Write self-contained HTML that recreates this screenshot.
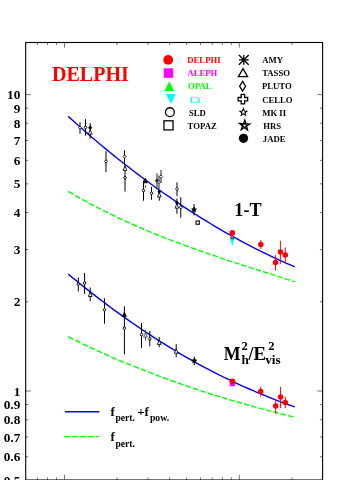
<!DOCTYPE html>
<html><head><meta charset="utf-8"><title>DELPHI</title>
<style>
html,body{margin:0;padding:0;background:#fff;}
svg{display:block;will-change:transform;opacity:0.999;font-family:"Liberation Serif",serif;font-weight:bold;}
.yl{font-size:12.8px;fill:#000;}
.lg{font-size:8.5px;}
.ti{font-size:20px;}
.big{font-size:18px;fill:#000;}
.sub{font-size:12px;}
.fl{font-size:13px;fill:#000;}
.fs{font-size:9.5px;}
</style></head><body>
<svg width="346" height="480" viewBox="0 0 346 480">
<rect width="346" height="480" fill="#fff"/>
<rect x="25.7" y="42.5" width="296.9" height="437.5" fill="none" stroke="#000" stroke-width="1.1"/>
<path d="M37.40 42.5v2.6 M37.40 480.0v-2.6 M47.54 42.5v2.6 M47.54 480.0v-2.6 M56.48 42.5v2.6 M56.48 480.0v-2.6 M64.48 42.5v5.2 M64.48 480.0v-5.2 M117.10 42.5v2.6 M117.10 480.0v-2.6 M147.88 42.5v2.6 M147.88 480.0v-2.6 M169.72 42.5v2.6 M169.72 480.0v-2.6 M186.66 42.5v2.6 M186.66 480.0v-2.6 M200.50 42.5v2.6 M200.50 480.0v-2.6 M212.20 42.5v2.6 M212.20 480.0v-2.6 M222.34 42.5v2.6 M222.34 480.0v-2.6 M231.28 42.5v2.6 M231.28 480.0v-2.6 M239.28 42.5v5.2 M239.28 480.0v-5.2 M291.90 42.5v2.6 M291.90 480.0v-2.6 M25.7 456.76h2.6 M322.55 456.76h-2.6 M25.7 436.91h2.6 M322.55 436.91h-2.6 M25.7 419.72h2.6 M322.55 419.72h-2.6 M25.7 404.56h2.6 M322.55 404.56h-2.6 M25.7 391.00h5.2 M322.55 391.00h-5.2 M25.7 301.77h2.6 M322.55 301.77h-2.6 M25.7 249.58h2.6 M322.55 249.58h-2.6 M25.7 212.55h2.6 M322.55 212.55h-2.6 M25.7 183.83h2.6 M322.55 183.83h-2.6 M25.7 160.36h2.6 M322.55 160.36h-2.6 M25.7 140.51h2.6 M322.55 140.51h-2.6 M25.7 123.32h2.6 M322.55 123.32h-2.6 M25.7 108.16h2.6 M322.55 108.16h-2.6 M25.7 94.60h5.2 M322.55 94.60h-5.2" stroke="#000" stroke-width="0.55" fill="none"/>
<text transform="translate(20.3 99.2) scale(1.04 1)" text-anchor="end" class="yl">10</text>
<text transform="translate(20.3 112.8) scale(1.04 1)" text-anchor="end" class="yl">9</text>
<text transform="translate(20.3 127.9) scale(1.04 1)" text-anchor="end" class="yl">8</text>
<text transform="translate(20.3 145.1) scale(1.04 1)" text-anchor="end" class="yl">7</text>
<text transform="translate(20.3 165.0) scale(1.04 1)" text-anchor="end" class="yl">6</text>
<text transform="translate(20.3 188.4) scale(1.04 1)" text-anchor="end" class="yl">5</text>
<text transform="translate(20.3 217.1) scale(1.04 1)" text-anchor="end" class="yl">4</text>
<text transform="translate(20.3 254.2) scale(1.04 1)" text-anchor="end" class="yl">3</text>
<text transform="translate(20.3 306.4) scale(1.04 1)" text-anchor="end" class="yl">2</text>
<text transform="translate(20.3 395.6) scale(1.04 1)" text-anchor="end" class="yl">1</text>
<text transform="translate(20.3 409.2) scale(1.04 1)" text-anchor="end" class="yl">0.9</text>
<text transform="translate(20.3 424.3) scale(1.04 1)" text-anchor="end" class="yl">0.8</text>
<text transform="translate(20.3 441.5) scale(1.04 1)" text-anchor="end" class="yl">0.7</text>
<text transform="translate(20.3 461.4) scale(1.04 1)" text-anchor="end" class="yl">0.6</text>
<text transform="translate(20.3 484.8) scale(1.04 1)" text-anchor="end" class="yl">0.5</text>
<path d="M68.2 191.40L72.0 193.65L75.9 195.86L79.7 198.03L83.6 200.17L87.4 202.26L91.2 204.32L95.1 206.34L98.9 208.33L102.8 210.28L106.6 212.20L110.4 214.09L114.3 215.94L118.1 217.77L122.0 219.56L125.8 221.32L129.7 223.06L133.5 224.76L137.3 226.45L141.2 228.11L145.0 229.75L148.9 231.36L152.7 232.95L156.5 234.52L160.4 236.06L164.2 237.58L168.1 239.08L171.9 240.55L175.7 242.01L179.6 243.45L183.4 244.87L187.3 246.28L191.1 247.66L194.9 249.03L198.8 250.39L202.6 251.74L206.5 253.07L210.3 254.40L214.1 255.71L218.0 257.01L221.8 258.30L225.7 259.58L229.5 260.85L233.3 262.11L237.2 263.36L241.0 264.61L244.9 265.85L248.7 267.09L252.6 268.32L256.4 269.55L260.2 270.77L264.1 272.00L267.9 273.22L271.8 274.44L275.6 275.66L279.4 276.88L283.3 278.11L287.1 279.34L291.0 280.57L294.8 281.80" stroke="#00ff00" stroke-width="1.4" fill="none" stroke-dasharray="5.85 2.09 5.85 2.09 5.85 2.09 5.85 2.09 5.85 2.09 5.85 2.09 5.85 2.09 5.85 2.09 5.85 2.09 5.85 2.09 5.85 2.09 5.85 2.09 5.85 2.09 5.85 2.09 5.85 2.09 5.85 2.09 5.85 2.09 5.85 2.09 5.6 1.98 5.6 1.98 5.6 1.98 5.6 1.98 5.6 1.98 5.6 1.98 5.6 1.98 5.6 1.98 5.6 1.98 5.6 1.98 5.6 1.98 5.6 1.98 5.6 1.98 5.6 1.98 5.6 1.98 5.6 1.98"/>
<path d="M68.2 336.68L72.0 338.60L75.9 340.50L79.7 342.39L83.6 344.26L87.4 346.11L91.2 347.93L95.1 349.71L98.9 351.46L102.8 353.20L106.6 354.93L110.4 356.64L114.3 358.29L118.1 359.90L122.0 361.49L125.8 363.06L129.7 364.63L133.5 366.17L137.3 367.70L141.2 369.22L145.0 370.72L148.9 372.20L152.7 373.67L156.5 375.12L160.4 376.55L164.2 377.98L168.1 379.38L171.9 380.77L175.7 382.14L179.6 383.50L183.4 384.84L187.3 386.16L191.1 387.47L194.9 388.76L198.8 390.03L202.6 391.30L206.5 392.54L210.3 393.77L214.1 394.98L218.0 396.18L221.8 397.36L225.7 398.53L229.5 399.68L233.3 400.82L237.2 401.94L241.0 403.04L244.9 404.13L248.7 405.21L252.6 406.26L256.4 407.31L260.2 408.33L264.1 409.37L267.9 410.42L271.8 411.45L275.6 412.46L279.4 413.46L283.3 414.45L287.1 415.42L291.0 416.37L294.8 417.31" stroke="#00ff00" stroke-width="1.4" fill="none" stroke-dasharray="5.85 2.09 5.85 2.09 5.85 2.09 5.85 2.09 5.85 2.09 5.85 2.09 5.85 2.09 5.85 2.09 5.85 2.09 5.85 2.09 5.85 2.09 5.85 2.09 5.85 2.09 5.85 2.09 5.85 2.09 5.85 2.09 5.85 2.09 5.85 2.09 5.6 1.98 5.6 1.98 5.6 1.98 5.6 1.98 5.6 1.98 5.6 1.98 5.6 1.98 5.6 1.98 5.6 1.98 5.6 1.98 5.6 1.98 5.6 1.98 5.6 1.98 5.6 1.98 5.6 1.98 5.6 1.98"/>
<path d="M68.2 116.38L72.0 119.84L75.9 123.27L79.7 126.68L83.6 130.05L87.4 133.38L91.2 136.69L95.1 139.97L98.9 143.21L102.8 146.42L106.6 149.60L110.4 152.75L114.3 155.86L118.1 158.95L122.0 162.00L125.8 165.02L129.7 168.01L133.5 170.97L137.3 173.89L141.2 176.78L145.0 179.65L148.9 182.48L152.7 185.28L156.5 188.04L160.4 190.78L164.2 193.48L168.1 196.16L171.9 198.80L175.7 201.42L179.6 204.00L183.4 206.55L187.3 209.06L191.1 211.55L194.9 214.00L198.8 216.43L202.6 218.82L206.5 221.18L210.3 223.50L214.1 225.81L218.0 228.09L221.8 230.33L225.7 232.54L229.5 234.72L233.3 236.87L237.2 238.98L241.0 241.06L244.9 243.10L248.7 245.12L252.6 247.10L256.4 249.05L260.2 250.97L264.1 252.86L267.9 254.71L271.8 256.54L275.6 258.34L279.4 260.10L283.3 261.83L287.1 263.53L291.0 265.20L294.8 266.83" stroke="#0000ff" stroke-width="1.4" fill="none"/>
<path d="M68.2 274.10L72.0 277.27L75.9 280.40L79.7 283.51L83.6 286.59L87.4 289.64L91.2 292.66L95.1 295.65L98.9 298.60L102.8 301.53L106.6 304.42L110.4 307.28L114.3 310.11L118.1 312.90L122.0 315.67L125.8 318.40L129.7 321.10L133.5 323.76L137.3 326.40L141.2 329.00L145.0 331.57L148.9 334.11L152.7 336.62L156.5 339.10L160.4 341.54L164.2 343.95L168.1 346.33L171.9 348.67L175.7 350.99L179.6 353.28L183.4 355.55L187.3 357.78L191.1 359.97L194.9 362.14L198.8 364.27L202.6 366.35L206.5 368.40L210.3 370.41L214.1 372.39L218.0 374.33L221.8 376.25L225.7 378.13L229.5 379.98L233.3 381.80L237.2 383.59L241.0 385.34L244.9 387.06L248.7 388.75L252.6 390.41L256.4 392.04L260.2 393.63L264.1 395.22L267.9 396.80L271.8 398.35L275.6 399.87L279.4 401.35L283.3 402.80L287.1 404.22L291.0 405.61L294.8 406.96" stroke="#0000ff" stroke-width="1.4" fill="none"/>
<circle cx="168.2" cy="59.9" r="4.9" fill="#ff0000" stroke="none" stroke-width="0"/>
<rect x="163.8" y="68.3" width="9.4" height="9.5" fill="#ff00ff"/>
<path d="M169.3 81.4L174.2 91H164.4Z" fill="#00ff00"/>
<path d="M170.9 104L165.9 94.1H175.9Z" fill="#00ffff"/>
<circle cx="169.9" cy="112.2" r="4.45" fill="none" stroke="#000" stroke-width="1.3"/>
<rect x="163.95" y="120.8" width="9.1" height="9.1" fill="none" stroke="#000" stroke-width="1.3"/>
<path d="M238.9 59.9H248.70000000000002M243.8 55.0V64.8M238.9 55.0L248.70000000000002 64.8M238.9 64.8L248.70000000000002 55.0" stroke="#000" stroke-width="1.3" fill="none"/>
<path d="M243 68.6L247.6 76.6H238.4Z" fill="none" stroke="#000" stroke-width="1.3"/>
<path d="M242.6 81.4L245.6 86.2L242.6 91.0L239.6 86.2Z" fill="none" stroke="#000" stroke-width="1.3"/>
<path d="M241.20000000000002 94.45H244.6V97.5H247.65V100.9H244.6V103.95H241.20000000000002V100.9H238.15V97.5H241.20000000000002Z" stroke="#000" stroke-width="1.3" fill="none"/>
<path d="M243.40 108.60L244.34 111.01L246.92 111.16L244.92 112.79L245.57 115.29L243.40 113.90L241.23 115.29L241.88 112.79L239.88 111.16L242.46 111.01Z" fill="none" stroke="#000" stroke-width="1.1"/>
<path d="M244.88 120.11L247.54 130.03L239.56 123.56L249.82 124.10L241.20 129.70Z" fill="none" stroke="#000" stroke-width="1.3" stroke-linejoin="miter"/>
<circle cx="243.5" cy="138.3" r="4.65" fill="#000" stroke="none" stroke-width="0"/>
<text transform="translate(187.3 63.0) scale(1.0 1)" font-size="8.7" fill="#ff0000" text-anchor="start">DELPHI</text>
<text transform="translate(187.4 76.1) scale(1.0 1)" font-size="8.7" fill="#ff00ff" text-anchor="start">ALEPH</text>
<text transform="translate(188.1 89.4) scale(1.0 1)" font-size="8.7" fill="#00ff00" text-anchor="start">OPAL</text>
<text transform="translate(190.1 102.5) scale(1.0 1)" font-size="8.7" fill="#00ffff" text-anchor="start">L3</text>
<text transform="translate(188.9 115.6) scale(1.0 1)" font-size="8.7" fill="#000" text-anchor="start">SLD</text>
<text transform="translate(187.6 128.8) scale(1.0 1)" font-size="8.7" fill="#000" text-anchor="start">TOPAZ</text>
<text transform="translate(262.2 63.0) scale(1.0 1)" font-size="8.7" fill="#000" text-anchor="start">AMY</text>
<text transform="translate(262.2 76.1) scale(1.0 1)" font-size="8.7" fill="#000" text-anchor="start">TASSO</text>
<text transform="translate(261.9 89.4) scale(1.0 1)" font-size="8.7" fill="#000" text-anchor="start">PLUTO</text>
<text transform="translate(262.2 102.5) scale(1.0 1)" font-size="8.7" fill="#000" text-anchor="start">CELLO</text>
<text transform="translate(262.2 115.6) scale(1.0 1)" font-size="8.7" fill="#000" text-anchor="start">MK II</text>
<text transform="translate(263.3 128.8) scale(1.0 1)" font-size="8.7" fill="#000" text-anchor="start">HRS</text>
<text transform="translate(262.8 141.9) scale(1.0 1)" font-size="8.7" fill="#000" text-anchor="start">JADE</text>
<text transform="translate(51.9 80.6) scale(1.0 1)" font-size="20.1" fill="#ff0000" text-anchor="start">DELPHI</text>
<text transform="translate(234.3 215.5) scale(1.0 1)" font-size="18.2" fill="#000" text-anchor="start">1-T</text>
<text transform="translate(223.8 360.1) scale(1.0 1)" font-size="17.8" fill="#000" text-anchor="start">M</text>
<text transform="translate(241.6 350.3) scale(1.0 1)" font-size="12.5" fill="#000" text-anchor="start">2</text>
<text transform="translate(241.4 364.1) scale(1.0 1)" font-size="13.2" fill="#000" text-anchor="start">h</text>
<text transform="translate(248.5 360.1) scale(1.0 1)" font-size="17.8" fill="#000" text-anchor="start">/</text>
<text transform="translate(253.4 360.1) scale(1.05 1)" font-size="17.8" fill="#000" text-anchor="start">E</text>
<text transform="translate(265.2 364.1) scale(1.0 1)" font-size="13.2" fill="#000" text-anchor="start">vis</text>
<text transform="translate(268.3 350.3) scale(1.0 1)" font-size="12.5" fill="#000" text-anchor="start">2</text>
<path d="M65 411.7H99.3" stroke="#0000ff" stroke-width="1.4"/>
<path d="M64.1 436.65H98.8" stroke="#00ff00" stroke-width="1.4" stroke-dasharray="5.8 2.15"/>
<text transform="translate(110.4 416) scale(1.0 1)" font-size="13" fill="#000" text-anchor="start">f</text>
<text transform="translate(115.5 421.1) scale(1.0 1)" font-size="9.6" fill="#000" text-anchor="start">pert.</text>
<text transform="translate(137.2 416) scale(1.0 1)" font-size="13" fill="#000" text-anchor="start">+f</text>
<text transform="translate(149.9 421.1) scale(1.02 1)" font-size="9.6" fill="#000" text-anchor="start">pow.</text>
<text transform="translate(110.4 441.2) scale(1.0 1)" font-size="13" fill="#000" text-anchor="start">f</text>
<text transform="translate(115.5 446.6) scale(1.0 1)" font-size="9.6" fill="#000" text-anchor="start">pert.</text>
<path d="M80 122.2V133.9" stroke="#000" stroke-width="1.0"/>
<path d="M80 126.0L81.5 127.7L80 129.4L78.5 127.7Z" fill="#fff" stroke="#000" stroke-width="0.85"/>
<path d="M85.5 119.2V135.7" stroke="#000" stroke-width="1.0"/>
<circle cx="85.5" cy="127.4" r="1.25" fill="#fff" stroke="#000" stroke-width="0.95"/>
<path d="M90.2 123.1V138.7" stroke="#000" stroke-width="1.0"/>
<path d="M90.2 125.8L92.10000000000001 127.7L90.2 129.6L88.3 127.7Z" fill="#000" stroke="#000" stroke-width="0.5"/>
<path d="M90.2 129.8L92.10000000000001 134.2L88.3 134.2Z" fill="#fff" stroke="#000" stroke-width="0.85"/>
<path d="M106.0 151.2V172.2" stroke="#000" stroke-width="1.0"/>
<path d="M106.0 159.70000000000002L107.5 161.4L106.0 163.1L104.5 161.4Z" fill="#fff" stroke="#000" stroke-width="0.85"/>
<path d="M124.5 150.2V165" stroke="#000" stroke-width="1.0"/>
<path d="M124.5 154.9L126.0 156.6L124.5 158.29999999999998L123.0 156.6Z" fill="#fff" stroke="#000" stroke-width="0.85"/>
<path d="M125.0 165V191.6" stroke="#000" stroke-width="1.0"/>
<path d="M125.0 166.0L126.9 170.39999999999998L123.1 170.39999999999998Z" fill="#fff" stroke="#000" stroke-width="0.85"/>
<circle cx="125.0" cy="177.7" r="1.25" fill="#fff" stroke="#000" stroke-width="0.95"/>
<path d="M143.5 180.3V200.7" stroke="#000" stroke-width="1.0"/>
<circle cx="143.5" cy="190.5" r="1.25" fill="#fff" stroke="#000" stroke-width="0.95"/>
<path d="M145.4 185V188.1" stroke="#555" stroke-width="1.0"/>
<path d="M145.4 178.4L147.3 182.79999999999998L143.5 182.79999999999998Z" fill="#000" stroke="#000" stroke-width="0.85"/>
<path d="M151.5 186.8V199.8" stroke="#000" stroke-width="1.0"/>
<circle cx="151.5" cy="193.3" r="1.25" fill="#fff" stroke="#000" stroke-width="0.95"/>
<path d="M157.0 173.4V189.4" stroke="#222" stroke-width="1.0"/>
<path d="M157.0 178.79999999999998L158.9 180.7L157.0 182.6L155.1 180.7Z" fill="#222" stroke="#222" stroke-width="0.5"/>
<path d="M159.0 175.5V189" stroke="#222" stroke-width="1.0"/>
<path d="M159.0 180.3L160.5 182L159.0 183.7L157.5 182Z" fill="#fff" stroke="#222" stroke-width="0.85"/>
<path d="M161.0 169.9V182.9" stroke="#222" stroke-width="1.0"/>
<path d="M161.0 174.9L162.5 176.6L161.0 178.29999999999998L159.5 176.6Z" fill="#fff" stroke="#222" stroke-width="0.85"/>
<path d="M159.3 190V200.7" stroke="#000" stroke-width="1.0"/>
<circle cx="159.3" cy="191.6" r="1.6" fill="#000" stroke="none" stroke-width="0"/>
<path d="M159.3 192.60000000000002L161.20000000000002 197.0L157.4 197.0Z" fill="#fff" stroke="#000" stroke-width="0.85"/>
<path d="M177.0 182.3V196.2" stroke="#000" stroke-width="1.0"/>
<path d="M177.0 187.3L178.5 189L177.0 190.7L175.5 189Z" fill="#fff" stroke="#000" stroke-width="0.85"/>
<path d="M176.9 198.5V213.7" stroke="#000" stroke-width="1.0"/>
<circle cx="176.9" cy="202.7" r="1.6" fill="#000" stroke="none" stroke-width="0"/>
<path d="M176.9 203.70000000000002L178.8 208.1L175.0 208.1Z" fill="#fff" stroke="#000" stroke-width="0.85"/>
<path d="M180.75 197.2V217.7" stroke="#000" stroke-width="1.0"/>
<path d="M180.75 205.60000000000002L182.25 207.3L180.75 209.0L179.25 207.3Z" fill="#fff" stroke="#000" stroke-width="0.85"/>
<path d="M194 203.9V215.4" stroke="#000" stroke-width="1.0"/>
<path d="M194.00 207.10L194.76 208.65L196.47 208.90L195.24 210.10L195.53 211.80L194.00 211.00L192.47 211.80L192.76 210.10L191.53 208.90L193.24 208.65Z" fill="#000" stroke="#000" stroke-width="0.7"/>
<rect x="196.04999999999998" y="220.95" width="3.3" height="3.3" fill="#fff" stroke="#000" stroke-width="1.05"/>
<path d="M232.3 246.3L229.9 237.6H234.7Z" fill="#00ffff"/>
<path d="M232.3 235.1L234.3 238.29999999999998L230.3 238.29999999999998Z" fill="#00ff00" stroke="none" stroke-width="0"/>
<circle cx="232.3" cy="237.4" r="1.5" fill="none" stroke="#000" stroke-width="0.8"/>
<rect x="230.70000000000002" y="234.8" width="2.4" height="2.4" fill="#ff00ff" stroke="none" stroke-width="0"/>
<circle cx="232.3" cy="232.9" r="2.8" fill="#ff0000" stroke="none" stroke-width="0"/>
<path d="M260.8 240V249" stroke="#ff0000" stroke-width="1.0"/>
<circle cx="260.8" cy="244.5" r="2.75" fill="#ff0000" stroke="none" stroke-width="0"/>
<path d="M275.5 255.2V270.4" stroke="#ff0000" stroke-width="1.0"/>
<circle cx="275.5" cy="262.5" r="2.75" fill="#ff0000" stroke="none" stroke-width="0"/>
<path d="M280.4 240.8V263.9" stroke="#ff0000" stroke-width="1.0"/>
<circle cx="280.4" cy="252" r="2.75" fill="#ff0000" stroke="none" stroke-width="0"/>
<path d="M285.3 247.5V262.5" stroke="#ff0000" stroke-width="1.0"/>
<circle cx="285.3" cy="254.9" r="2.75" fill="#ff0000" stroke="none" stroke-width="0"/>
<path d="M78.3 277.4V291.5" stroke="#000" stroke-width="1.0"/>
<circle cx="78.3" cy="284.0" r="1.25" fill="#fff" stroke="#000" stroke-width="0.95"/>
<path d="M84.6 272.9V293.9" stroke="#000" stroke-width="1.0"/>
<circle cx="84.6" cy="283.0" r="1.25" fill="#fff" stroke="#000" stroke-width="0.95"/>
<path d="M90.2 287.5V301.1" stroke="#000" stroke-width="1.0"/>
<path d="M90.2 292.1L92.10000000000001 296.5L88.3 296.5Z" fill="#fff" stroke="#000" stroke-width="0.85"/>
<path d="M104.5 298.3V323.7" stroke="#000" stroke-width="1.0"/>
<circle cx="104.5" cy="309.8" r="1.25" fill="#fff" stroke="#000" stroke-width="0.95"/>
<path d="M124.4 306.3V354.4" stroke="#000" stroke-width="1.0"/>
<circle cx="124.4" cy="328.2" r="1.25" fill="#fff" stroke="#000" stroke-width="0.95"/>
<path d="M124.4 312.1L126.30000000000001 316.5L122.5 316.5Z" fill="#000" stroke="#000" stroke-width="0.85"/>
<path d="M141.5 323V348.2" stroke="#000" stroke-width="1.0"/>
<circle cx="141.5" cy="334.6" r="1.25" fill="#fff" stroke="#000" stroke-width="0.95"/>
<path d="M145.5 330.1V340.5" stroke="#444" stroke-width="1.0"/>
<path d="M145.5 332.7L147.4 337.09999999999997L143.6 337.09999999999997Z" fill="#fff" stroke="#444" stroke-width="0.85"/>
<path d="M149.8 331V346.3" stroke="#000" stroke-width="1.0"/>
<circle cx="149.8" cy="338.8" r="1.25" fill="#fff" stroke="#000" stroke-width="0.95"/>
<path d="M159.2 337V347.2" stroke="#000" stroke-width="1.0"/>
<path d="M159.2 340.0L161.1 344.4L157.29999999999998 344.4Z" fill="#fff" stroke="#000" stroke-width="0.85"/>
<path d="M176.2 344.1V357.2" stroke="#000" stroke-width="1.0"/>
<path d="M176.2 348.8L178.1 353.2L174.29999999999998 353.2Z" fill="#fff" stroke="#000" stroke-width="0.85"/>
<path d="M194.3 356.8V365.2" stroke="#000" stroke-width="1.0"/>
<path d="M194.30 358.20L195.06 359.75L196.77 360.00L195.54 361.20L195.83 362.90L194.30 362.10L192.77 362.90L193.06 361.20L191.83 360.00L193.54 359.75Z" fill="#000" stroke="#000" stroke-width="0.7"/>
<rect x="229.8" y="381.09999999999997" width="5.2" height="5.2" fill="#ff00ff" stroke="none" stroke-width="0"/>
<circle cx="232.4" cy="381.3" r="2.8" fill="#ff0000" stroke="none" stroke-width="0"/>
<path d="M260.7 386.8V396.7" stroke="#ff0000" stroke-width="1.0"/>
<circle cx="260.7" cy="391.6" r="2.75" fill="#ff0000" stroke="none" stroke-width="0"/>
<path d="M275.7 399.1V413.6" stroke="#ff0000" stroke-width="1.0"/>
<circle cx="275.7" cy="406.1" r="2.75" fill="#ff0000" stroke="none" stroke-width="0"/>
<path d="M280.6 386.9V408" stroke="#ff0000" stroke-width="1.0"/>
<circle cx="280.6" cy="397.1" r="2.75" fill="#ff0000" stroke="none" stroke-width="0"/>
<path d="M285.3 396.8V408.2" stroke="#ff0000" stroke-width="1.0"/>
<circle cx="285.3" cy="402.4" r="2.75" fill="#ff0000" stroke="none" stroke-width="0"/>
</svg>
</body></html>
